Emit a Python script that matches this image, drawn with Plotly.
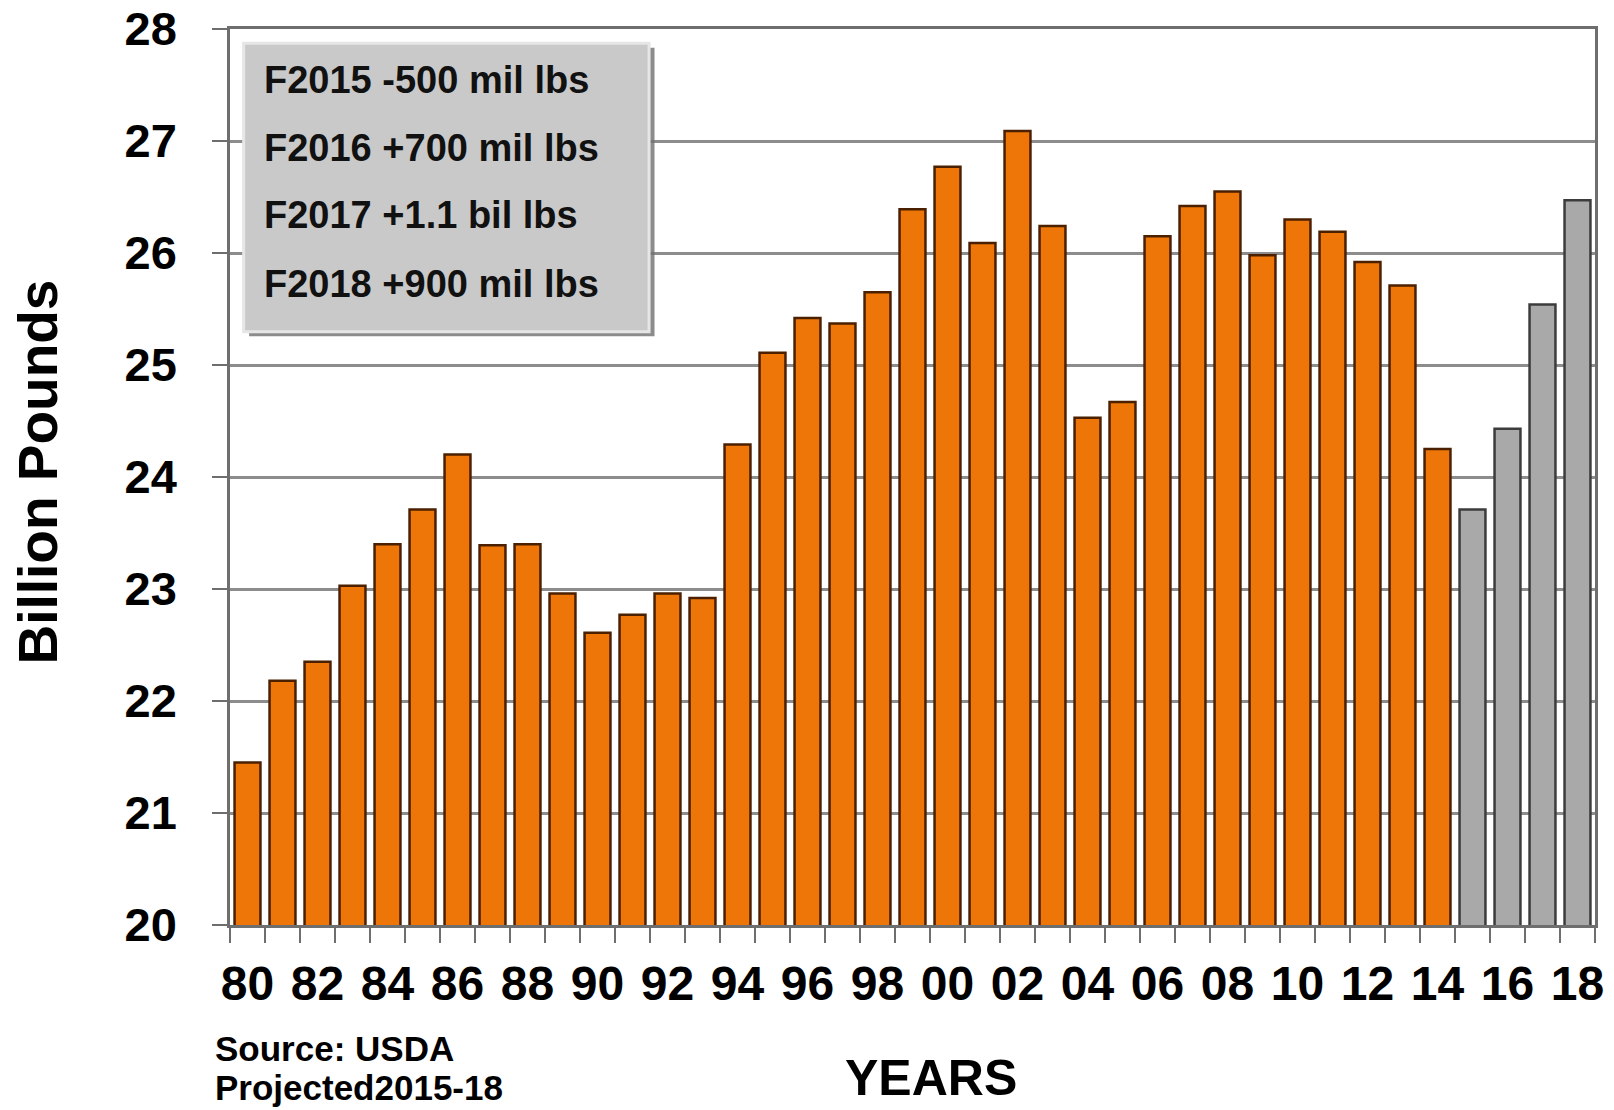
import plotly.graph_objects as go

years = list(range(1980, 2019))
production = [21.45, 22.18, 22.35, 23.03, 23.40, 23.71, 24.20, 23.39, 23.40, 22.96,
              22.61, 22.77, 22.96, 22.92, 24.29, 25.11, 25.42, 25.37, 25.65, 26.39,
              26.77, 26.09, 27.09, 26.24, 24.53, 24.67, 26.15, 26.42, 26.55, 25.98,
              26.30, 26.19, 25.92, 25.71, 24.25, 23.71, 24.43, 25.54, 26.47]
first_projected = 2015

tick_years = list(range(1980, 2019, 2))
tick_labels = ['%02d' % (y % 100) for y in tick_years]

notes = ['F2015 -500 mil lbs', 'F2016 +700 mil lbs', 'F2017 +1.1 bil lbs', 'F2018 +900 mil lbs']

bar_colors = ['#A9A9A9' if y >= first_projected else '#EE7608' for y in years]
edge_colors = ['#3C3C3C' if y >= first_projected else '#4A2000' for y in years]

font_stack = 'Liberation Sans, Arial, sans-serif'

fig = go.Figure()
fig.add_trace(go.Bar(
    x=years, y=production, width=0.74,
    marker=dict(color=bar_colors, line=dict(color=edge_colors, width=2.5)),
    showlegend=False
))

# page body has an 8px margin, so the figure is made 8px smaller each way
fig.update_layout(
    width=1606, height=1102,
    margin=dict(l=222, r=19, t=21, b=185),
    plot_bgcolor='white', paper_bgcolor='white',
    font=dict(family=font_stack, color='black'),
)

fig.update_xaxes(
    range=[1979.5, 2018.5], automargin=False,
    tickmode='array', tickvals=tick_years, ticktext=tick_labels,
    tickfont=dict(size=48, weight='bold'),
    ticks='', showgrid=False,
    showline=True, linecolor='#6E6E6E', linewidth=2.5, mirror=True,
    minor=dict(ticks='outside', tick0=1979.5, dtick=1, ticklen=15,
               tickcolor='#6E6E6E', tickwidth=2, showgrid=False),
    ticklabelstandoff=15,
)
fig.update_yaxes(
    range=[20, 28], dtick=1, automargin=False,
    tickfont=dict(size=47, weight='bold'),
    ticks='outside', ticklen=15, tickcolor='#6E6E6E', tickwidth=2,
    showgrid=True, gridcolor='#8C8C8C', gridwidth=2.5,
    showline=True, linecolor='#6E6E6E', linewidth=2.5, mirror=True,
    ticklabelstandoff=26, ticklabeloverflow='allow', zeroline=False,
)

# note box with shadow
fig.add_shape(type='rect', xref='paper', yref='paper', x0=0.014, x1=0.311, y0=0.657, y1=0.979,
              fillcolor='#6F6F6F', line=dict(width=0), opacity=0.8)
fig.add_shape(type='rect', xref='paper', yref='paper', x0=0.010, x1=0.307, y0=0.662, y1=0.984,
              fillcolor='#C9C9C9', line=dict(color='#E6E6E6', width=3))

note_y = [0.943, 0.867, 0.792, 0.715]
for txt, yy in zip(notes, note_y):
    fig.add_annotation(text=txt, xref='paper', yref='paper', x=0.0234, y=yy,
                       xanchor='left', yanchor='middle', showarrow=False,
                       font=dict(size=38, weight='bold', color='#111111'))

fig.add_annotation(text='Billion Pounds', textangle=-90, xref='paper', yref='paper',
                   x=-0.141, y=0.5056, xanchor='center', yanchor='middle', showarrow=False,
                   font=dict(size=55, weight='bold'))
fig.add_annotation(text='YEARS', xref='paper', yref='paper', x=0.5136, y=-0.171,
                   xanchor='center', yanchor='middle', showarrow=False,
                   font=dict(size=50, weight='bold'))
fig.add_annotation(text='Source: USDA', xref='paper', yref='paper', x=-0.0125, y=-0.138,
                   xanchor='left', yanchor='middle', showarrow=False,
                   font=dict(size=35, weight='bold'))
fig.add_annotation(text='Projected2015-18', xref='paper', yref='paper', x=-0.0125, y=-0.181,
                   xanchor='left', yanchor='middle', showarrow=False,
                   font=dict(size=35, weight='bold'))

fig.write_html('out.html')
